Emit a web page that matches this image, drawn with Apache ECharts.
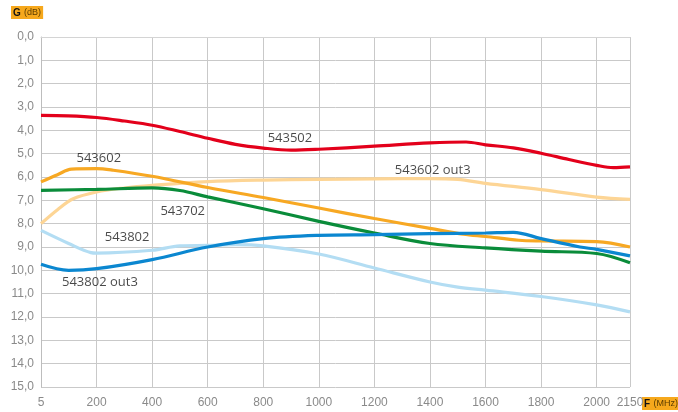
<!DOCTYPE html>
<html>
<head>
<meta charset="utf-8">
<script src="https://cdn.jsdelivr.net/npm/echarts@6/dist/echarts.min.js"></script>
<style>
html,body{margin:0;padding:0;background:#fff;}
#c{width:678px;height:412px;}
</style>
</head>
<body>
<div id="c"></div>
<script>
// Axis ticks (MHz) and their labels; the axis is not linear (last step is short)
const tickMHz = [5, 200, 400, 600, 800, 1000, 1200, 1400, 1600, 1800, 2000, 2150];
const tickLabels = ['5', '200', '400', '600', '800', '1000', '1200', '1400', '1600', '1800', '2000', '2150'];
const tickPos = [0, 1, 2, 3, 4, 5, 6, 7, 8, 9, 10, 10.6];
const gTicks = [0, 1, 2, 3, 4, 5, 6, 7, 8, 9, 10, 11, 12, 13, 14, 15];

// Series: frequency (MHz) and gain (dB)
const f543502 = [5, 100, 200, 300, 400, 500, 600, 700, 800, 900, 1000, 1200, 1400, 1530, 1600, 1700, 1800, 1900, 2000, 2075, 2150];
const g543502 = [3.36, 3.38, 3.45, 3.6, 3.78, 4.05, 4.34, 4.6, 4.76, 4.85, 4.81, 4.68, 4.54, 4.5, 4.62, 4.75, 4.98, 5.25, 5.5, 5.6, 5.57];

const f543602 = [5, 63, 112, 200, 260, 400, 600, 800, 1000, 1200, 1400, 1520, 1600, 1720, 1800, 2000, 2150];
const g543602 = [6.21, 5.9, 5.66, 5.64, 5.71, 5.97, 6.45, 6.88, 7.33, 7.78, 8.2, 8.45, 8.55, 8.71, 8.74, 8.77, 9.0];

const f543602o3 = [5, 63, 118, 200, 300, 400, 600, 800, 1000, 1200, 1400, 1500, 1600, 1800, 2000, 2150];
const g543602o3 = [8.0, 7.4, 6.93, 6.64, 6.47, 6.36, 6.2, 6.13, 6.1, 6.08, 6.07, 6.1, 6.27, 6.54, 6.86, 6.96];

const f543702 = [5, 200, 400, 500, 600, 800, 1000, 1200, 1400, 1600, 1800, 2000, 2150];
const g543702 = [6.57, 6.53, 6.47, 6.58, 6.85, 7.36, 7.9, 8.4, 8.85, 9.04, 9.18, 9.28, 9.68];

const f543802o3 = [5, 102, 200, 400, 600, 800, 1000, 1200, 1400, 1600, 1700, 1800, 1940, 2000, 2150];
const g543802o3 = [9.74, 10.0, 9.93, 9.54, 9.0, 8.64, 8.5, 8.47, 8.43, 8.4, 8.37, 8.64, 9.0, 9.1, 9.38];

const f543802 = [5, 102, 180, 200, 400, 500, 600, 700, 800, 1000, 1200, 1400, 1500, 1600, 1800, 2000, 2150];
const g543802 = [8.29, 8.85, 9.24, 9.26, 9.14, 8.95, 8.93, 8.9, 8.95, 9.3, 9.9, 10.5, 10.72, 10.85, 11.12, 11.48, 11.78];

// Curve name labels: [text, MHz, dB]
const curveLabels = [
  ['543502', 896, 4.34],
  ['543602', 208, 5.2],
  ['543602 out3', 1410, 5.71],
  ['543702', 510, 7.47],
  ['543802', 310, 8.59],
  ['543802 out3', 212, 10.5]
];

function mapF(f) {
  for (let i = 0; i < tickMHz.length - 1; i++) {
    if (f <= tickMHz[i + 1]) {
      const t = (f - tickMHz[i]) / (tickMHz[i + 1] - tickMHz[i]);
      return tickPos[i] + t * (tickPos[i + 1] - tickPos[i]);
    }
  }
  return tickPos[tickPos.length - 1];
}
function pts(fs, gs) { return fs.map((f, i) => [mapF(f), gs[i]]); }

const colors = {
  '543502': '#e3001b',
  '543602': '#f7a823',
  '543602 out3': '#fdd595',
  '543702': '#0a8c3a',
  '543802 out3': '#0b87d0',
  '543802': '#b3ddf3'
};
const seriesDefs = [
  ['543602 out3', f543602o3, g543602o3],
  ['543802', f543802, g543802],
  ['543502', f543502, g543502],
  ['543702', f543702, g543702],
  ['543602', f543602, g543602],
  ['543802 out3', f543802o3, g543802o3]
];

const series = seriesDefs.map(([name, fs, gs]) => ({
  name: name,
  type: 'line',
  smooth: 0.35,
  symbol: 'none',
  data: pts(fs, gs),
  lineStyle: { color: colors[name], width: 3.2 },
  itemStyle: { color: colors[name] },
  z: 3
}));

series.push({
  type: 'scatter',
  symbolSize: 1,
  itemStyle: { color: 'rgba(0,0,0,0)' },
  data: curveLabels.map(l => ({ value: [mapF(l[1]), l[2]], name: l[0] })),
  label: {
    show: true,
    position: 'inside',
    formatter: p => p.name,
    color: '#1a1a1a',
    fontSize: 13,
    fontFamily: 'Open Sans'
  },
  z: 5,
  silent: true
});

const chart = echarts.init(document.getElementById('c'), null, { renderer: 'canvas' });
chart.setOption({
  animation: false,
  backgroundColor: '#ffffff',
  grid: { left: 41, right: 48, top: 37, bottom: 25, containLabel: false },
  xAxis: {
    type: 'value',
    min: 0,
    max: tickPos[tickPos.length - 1],
    interval: 1,
    axisLine: { show: true, lineStyle: { color: '#d4d4d4', width: 1 } },
    axisTick: { show: false },
    splitLine: { show: true, lineStyle: { color: '#c9c9c9', width: 1 } },
    axisLabel: {
      margin: 10,
      color: '#8a8a8a',
      fontSize: 12,
      fontFamily: 'Liberation Sans',
      formatter: function (v) {
        for (let i = 0; i < tickPos.length; i++) {
          if (Math.abs(v - tickPos[i]) < 0.01) return tickLabels[i];
        }
        return '';
      }
    }
  },
  yAxis: {
    type: 'value',
    inverse: true,
    min: gTicks[0],
    max: gTicks[gTicks.length - 1],
    interval: 1,
    axisLine: { show: true, lineStyle: { color: '#bdbdbd', width: 1 } },
    axisTick: { show: false },
    splitLine: { show: true, lineStyle: { color: '#c9c9c9', width: 1 } },
    axisLabel: {
      margin: 7,
      color: '#8a8a8a',
      fontSize: 12,
      fontFamily: 'Liberation Sans',
      formatter: v => v.toFixed(1).replace('.', ',')
    }
  },
  graphic: [
    {
      type: 'text',
      left: 11,
      top: 6,
      style: {
        text: '{b|G} {s|(dB)}',
        backgroundColor: '#f6a81c',
        padding: [1, 2, 0, 2],
        rich: {
          b: { fontSize: 10, fontWeight: 'bold', fill: '#111', fontFamily: 'Liberation Sans' },
          s: { fontSize: 9, fill: '#5a3c00', fontFamily: 'Liberation Sans' }
        }
      }
    },
    {
      type: 'text',
      left: 642,
      top: 397,
      style: {
        text: '{b|F} {s|(MHz)}',
        backgroundColor: '#f6a81c',
        padding: [1, 2, 0, 2],
        rich: {
          b: { fontSize: 10, fontWeight: 'bold', fill: '#111', fontFamily: 'Liberation Sans' },
          s: { fontSize: 9, fill: '#5a3c00', fontFamily: 'Liberation Sans' }
        }
      }
    }
  ],
  series: series
});
</script>
</body>
</html>
